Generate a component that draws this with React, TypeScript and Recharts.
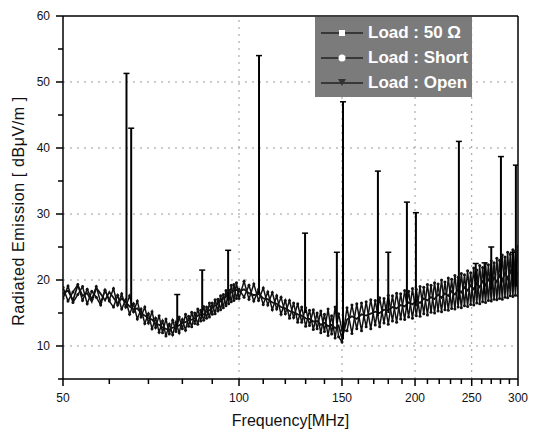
import {
  ComposedChart,
  Line,
  XAxis,
  YAxis,
  ReferenceLine,
  Scatter,
  Legend,
  Label,
} from "recharts";

// frequency points of the sweep [MHz]
const FREQ = [
  50, 51, 52, 53, 54, 55, 56, 57, 58, 59, 60, 61, 62, 63, 64, 65, 66, 67, 68, 69,
  70, 71, 72, 73, 74, 75, 76, 77, 78, 79, 80, 81, 82, 83, 84, 85, 86, 87, 88, 89,
  90, 91, 92, 93, 94, 95, 96, 97, 98, 99, 100,
  102, 104, 106, 108, 110, 112, 114, 116, 118, 120, 122, 124, 126, 128, 130,
  132, 134, 136, 138, 140, 142, 144, 146, 148, 150,
  153, 156, 159, 162, 165, 168, 171, 174, 177, 180, 183, 186, 189, 192, 195,
  198, 201, 204, 207, 210, 213, 216, 219, 222, 225, 228, 231, 234, 237, 240,
  243, 246, 249, 252, 255, 258, 261, 264, 267, 270, 273, 276, 279, 282, 285,
  288, 291, 294, 297, 300,
];

// Load : 50 ohm
const LOAD_50 = [
  18.9, 16.8, 18.2, 19.3, 16.9, 18.6, 17.1, 19.0, 16.6, 18.4,
  17.0, 18.7, 16.2, 17.9, 15.9, 17.6, 15.2, 16.8, 14.4, 15.9,
  13.5, 15.2, 12.8, 14.6, 12.0, 14.1, 11.8, 13.9, 12.2, 14.4,
  12.6, 14.8, 13.0, 15.1, 13.4, 15.6, 13.8, 16.0, 14.2, 16.5,
  14.8, 17.0, 15.3, 17.6, 15.8, 18.4, 16.4, 19.2, 16.9, 19.6,
  17.2,
  19.8, 17.1, 19.4, 16.9, 18.8, 16.2, 18.1, 15.6, 17.4, 14.9,
  16.9, 14.3, 16.4, 13.6, 15.8, 13.1, 15.5, 12.6, 15.3, 12.2,
  15.6, 11.8, 15.9, 11.4, 10.6,
  15.8, 11.9, 16.4, 12.3, 16.7, 12.6, 16.9, 12.9, 17.2, 13.3,
  17.6, 13.6, 17.9, 14.0, 18.3, 14.2, 18.6, 14.5, 18.9, 14.7,
  19.2, 15.0, 19.4, 15.2, 19.7, 15.4, 20.1, 15.6, 20.4, 15.8,
  20.8, 16.0, 21.1, 16.2, 21.5, 16.4, 21.9, 16.6, 22.3, 16.8,
  22.6, 17.0, 23.0, 17.1, 23.5, 17.3, 23.9, 17.5, 24.4, 17.6,
];

// Load : Short
const LOAD_SHORT = [
  17.2, 19.1, 16.6, 17.8, 19.0, 16.4, 18.3, 17.4, 16.2, 18.5,
  16.8, 15.9, 17.7, 15.6, 17.0, 14.8, 16.4, 14.1, 15.6, 13.4,
  14.9, 12.6, 14.2, 12.1, 13.8, 11.5, 13.3, 11.7, 13.6, 12.0,
  14.0, 12.4, 14.5, 12.9, 15.0, 13.3, 15.4, 13.9, 15.9, 14.4,
  16.5, 14.9, 17.1, 15.5, 17.8, 16.1, 18.5, 16.7, 19.3, 17.2,
  18.6,
  17.4, 19.2, 16.8, 18.6, 16.3, 18.2, 15.5, 17.6, 14.8, 16.9,
  14.2, 16.5, 13.6, 15.9, 13.0, 15.4, 12.5, 15.0, 12.0, 14.8,
  11.6, 14.6, 11.2, 14.9, 12.4,
  12.3, 16.2, 12.6, 16.5, 12.9, 17.0, 13.2, 17.3, 13.5, 17.7,
  13.8, 18.0, 14.1, 18.4, 14.4, 18.7, 14.6, 19.0, 14.9, 19.3,
  15.1, 19.6, 15.3, 20.0, 15.5, 20.3, 15.7, 20.7, 15.9, 21.0,
  16.1, 21.4, 16.3, 21.8, 16.5, 22.2, 16.7, 22.5, 16.9, 22.9,
  17.1, 23.3, 17.2, 23.8, 17.4, 24.2, 17.6, 24.6, 17.7, 25.1,
];

// Load : Open
const LOAD_OPEN = [
  17.9, 18.4, 16.9, 19.2, 17.6, 18.0, 16.7, 18.8, 17.9, 16.9,
  18.2, 17.3, 16.4, 17.2, 16.6, 16.0, 15.5, 15.7, 15.0, 14.6,
  14.2, 14.0, 13.4, 13.2, 12.8, 12.6, 12.5, 12.8, 12.9, 13.1,
  13.5, 13.6, 13.9, 14.0, 14.2, 14.6, 14.7, 14.8, 15.2, 15.4,
  15.8, 16.1, 16.4, 16.8, 17.2, 17.5, 17.9, 18.1, 18.4, 18.5,
  18.2,
  18.6, 18.0, 17.7, 17.9, 17.2, 17.1, 16.6, 16.4, 15.9, 15.7,
  15.3, 15.1, 14.8, 14.6, 14.2, 14.1, 13.7, 13.8, 13.2, 13.5,
  13.0, 13.2, 12.7, 13.1, 11.2,
  14.0, 14.5, 14.1, 14.8, 14.6, 14.9, 15.2, 15.0, 15.5, 15.4,
  15.9, 15.7, 16.2, 16.0, 16.6, 16.3, 16.9, 16.5, 17.2, 16.9,
  17.4, 17.1, 17.8, 17.3, 18.0, 17.6, 18.3, 17.8, 18.6, 18.1,
  18.9, 18.4, 19.2, 18.6, 19.5, 18.9, 19.8, 19.2, 20.1, 19.4,
  20.4, 19.7, 20.7, 19.9, 21.1, 20.2, 21.4, 20.5, 21.8, 20.7,
];

// narrow emission peaks
const SPIKE_FREQ = [64.2, 65.4, 78.4, 86.5, 95.8, 108.2, 129.7, 147.0, 150.6, 172.8, 180.0, 193.7, 200.7, 237.7, 254, 263, 270, 280.5, 294, 297.5];
const SPIKE_BASE = [17, 16, 13, 14.5, 17, 18, 15, 13.5, 11, 14.5, 15, 15.5, 16, 17, 18, 18, 18.5, 19, 19, 19];
const SPIKE_PEAK = [51.3, 43, 17.8, 21.5, 24.5, 54.0, 27.1, 24.2, 47.0, 36.5, 24.2, 31.8, 30.2, 41.0, 22.5, 22.6, 25.0, 38.7, 24.2, 37.4];

const X_TICKS = [50, 60, 70, 80, 90, 100, 110, 120, 130, 140, 150, 160, 170, 180, 190, 200, 210, 220, 230, 240, 250, 260, 270, 280, 290, 300];
const Y_TICKS = [5, 10, 15, 20, 25, 30, 35, 40, 45, 50, 55, 60];
const GRID_X = [100, 150, 200, 250];
const GRID_Y = [10, 20, 30, 40, 50];

const rows = FREQ.map((f, i) => ({ f, a: LOAD_50[i], b: LOAD_SHORT[i], c: LOAD_OPEN[i] }));
const spikes = SPIKE_FREQ.map((f, i) => ({ f, base: SPIKE_BASE[i], peak: SPIKE_PEAK[i] }));

const FONT = "'Liberation Sans', Arial, sans-serif";

const XTick = (props: any) => {
  const { x, y, payload } = props;
  const major = payload.value % 50 === 0;
  return (
    <g>
      <line x1={x} x2={x} y1={y} y2={y + (major ? 7 : 5)} stroke="#000" strokeWidth={1.5} />
      {major && (
        <text x={x} y={y + 23} textAnchor="middle" fontSize={12} fill="#111" fontFamily={FONT}>
          {payload.value}
        </text>
      )}
    </g>
  );
};

const YTick = (props: any) => {
  const { x, y, payload } = props;
  const major = payload.value % 10 === 0;
  return (
    <g>
      <line x1={x - (major ? 7 : 5)} x2={x} y1={y} y2={y} stroke="#000" strokeWidth={1.5} />
      {major && (
        <text x={x - 13} y={y + 4} textAnchor="end" fontSize={12} fill="#111" fontFamily={FONT}>
          {payload.value}
        </text>
      )}
    </g>
  );
};

const Cap = (props: any) => {
  const { cx, cy } = props;
  return <line x1={cx - 3} x2={cx + 3} y1={cy} y2={cy} stroke="#000" strokeWidth={1.5} />;
};

const LEGEND_ROWS = [
  { name: "Load : 50 Ω", mark: "square" },
  { name: "Load : Short", mark: "circle" },
  { name: "Load : Open", mark: "tri" },
];

const LegendBox = () => (
  <div style={{ background: "#7b7b7b", padding: "3px 0 2px 4px", fontFamily: FONT }}>
    {LEGEND_ROWS.map((r) => (
      <div key={r.name} style={{ display: "flex", alignItems: "center", height: 25 }}>
        <svg width={46} height={20}>
          <line x1={2} x2={44} y1={10} y2={10} stroke="#222" strokeWidth={1.5} />
          {r.mark === "square" && <rect x={20} y={7} width={6} height={6} fill="#fff" />}
          {r.mark === "circle" && <circle cx={23} cy={10} r={3.5} fill="#fff" />}
          {r.mark === "tri" && <path d="M19,6 L27,6 L23,13 Z" fill="#333" />}
        </svg>
        <span style={{ color: "#fff", fontWeight: "bold", fontSize: 17, marginLeft: 3 }}>{r.name}</span>
      </div>
    ))}
  </div>
);

export default function App() {
  return (
    <div style={{ position: "absolute", left: 0, top: 0, background: "#fff" }}>
      <ComposedChart
        width={538}
        height={436}
        data={rows}
        margin={{ top: 16, right: 20, left: 0, bottom: 0 }}
        style={{ fontFamily: FONT }}
      >
        <XAxis
          dataKey="f"
          type="number"
          scale="log"
          domain={[50, 300]}
          allowDataOverflow
          ticks={X_TICKS}
          interval={0}
          height={57}
          tick={<XTick />}
          tickLine={false}
          tickSize={0}
          tickMargin={0}
          axisLine={{ stroke: "#000", strokeWidth: 1.5 }}
        >
          <Label
            value="Frequency[MHz]"
            position="insideBottom"
            offset={10}
            style={{ fontSize: 16, fill: "#111", fontFamily: FONT }}
          />
        </XAxis>
        <YAxis
          type="number"
          domain={[5, 60]}
          allowDataOverflow
          ticks={Y_TICKS}
          interval={0}
          width={63}
          tick={<YTick />}
          tickLine={false}
          tickSize={0}
          tickMargin={0}
          axisLine={{ stroke: "#000", strokeWidth: 1.5 }}
        >
          <Label
            content={() => (
              <text
                transform="translate(24,211) rotate(-90)"
                textAnchor="middle"
                fontSize={16}
                fill="#111"
                fontFamily={FONT}
                letterSpacing={0.6}
              >
                Radiated Emission [ dBμV/m ]
              </text>
            )}
          />
        </YAxis>

        {GRID_Y.map((v) => (
          <ReferenceLine key={"gy" + v} y={v} stroke="#9a9a9a" strokeDasharray="2 5" />
        ))}
        {GRID_X.map((v) => (
          <ReferenceLine key={"gx" + v} x={v} stroke="#9a9a9a" strokeDasharray="2 5" />
        ))}
        <ReferenceLine y={60} stroke="#000" strokeWidth={1.5} />
        <ReferenceLine x={300} stroke="#000" strokeWidth={1.5} />

        <Line dataKey="a" name="Load : 50 Ω" stroke="#111" strokeWidth={1.5} dot={{ r: 1.5, fill: "#111", stroke: "none" }} isAnimationActive={false} />
        <Line dataKey="b" name="Load : Short" stroke="#111" strokeWidth={1.5} dot={{ r: 1.5, fill: "#111", stroke: "none" }} isAnimationActive={false} />
        <Line dataKey="c" name="Load : Open" stroke="#111" strokeWidth={1.8} dot={false} isAnimationActive={false} />

        {spikes.map((s) => (
          <ReferenceLine
            key={"sp" + s.f}
            segment={[
              { x: s.f, y: s.base },
              { x: s.f, y: s.peak },
            ]}
            stroke="#000"
            strokeWidth={2}
          />
        ))}
        <Scatter data={spikes} dataKey="peak" shape={<Cap />} isAnimationActive={false} />

        <Legend
          layout="vertical"
          align="center"
          verticalAlign="middle"
          content={<LegendBox />}
          wrapperStyle={{ left: 315, top: 17, width: 157 }}
        />
      </ComposedChart>
    </div>
  );
}
